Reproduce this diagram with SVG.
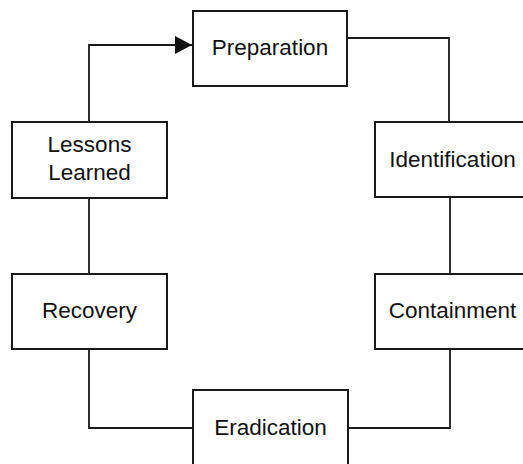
<svg xmlns="http://www.w3.org/2000/svg" width="523" height="464" viewBox="0 0 523 464">
<style>
.box{fill:#fff;stroke:#1a1a1a;stroke-width:2}
.lbl{font-family:"Liberation Sans",Arial,sans-serif;font-size:22.5px;fill:#111;text-anchor:middle}
.conn{fill:none;stroke:#1a1a1a;stroke-width:1.8}
</style>
<defs>
<marker id="arr" markerUnits="userSpaceOnUse" markerWidth="18" markerHeight="18" refX="17" refY="9" orient="auto">
<path d="M0,0 L17,9 L0,18 Z" fill="#111"/>
</marker>
</defs>
<rect width="523" height="464" fill="#fff"/>
<g id="connectors">
<path class="conn" d="M89,122 V45 H192" marker-end="url(#arr)"/>
<path class="conn" d="M347,38 H449 V122"/>
<path class="conn" d="M450,197 V274"/>
<path class="conn" d="M450,349 V428 H348"/>
<path class="conn" d="M193,428 H89 V349"/>
<path class="conn" d="M89,274 V198"/>
</g>
<g id="preparation"><rect class="box" x="193" y="11" width="154" height="75"/><text class="lbl" x="270" y="55">Preparation</text></g>
<g id="identification"><rect class="box" x="375" y="122" width="155" height="75"/><text class="lbl" x="452.5" y="167">Identification</text></g>
<g id="containment"><rect class="box" x="375" y="274" width="155" height="75"/><text class="lbl" x="452.5" y="318">Containment</text></g>
<g id="eradication"><rect class="box" x="193" y="390" width="155" height="75"/><text class="lbl" x="270.5" y="435">Eradication</text></g>
<g id="recovery"><rect class="box" x="12" y="274" width="155" height="75"/><text class="lbl" x="89.5" y="318">Recovery</text></g>
<g id="lessons-learned"><rect class="box" x="12" y="122" width="155" height="76"/><text class="lbl" x="89.5" y="152">Lessons</text><text class="lbl" x="89.5" y="180">Learned</text></g>
</svg>
